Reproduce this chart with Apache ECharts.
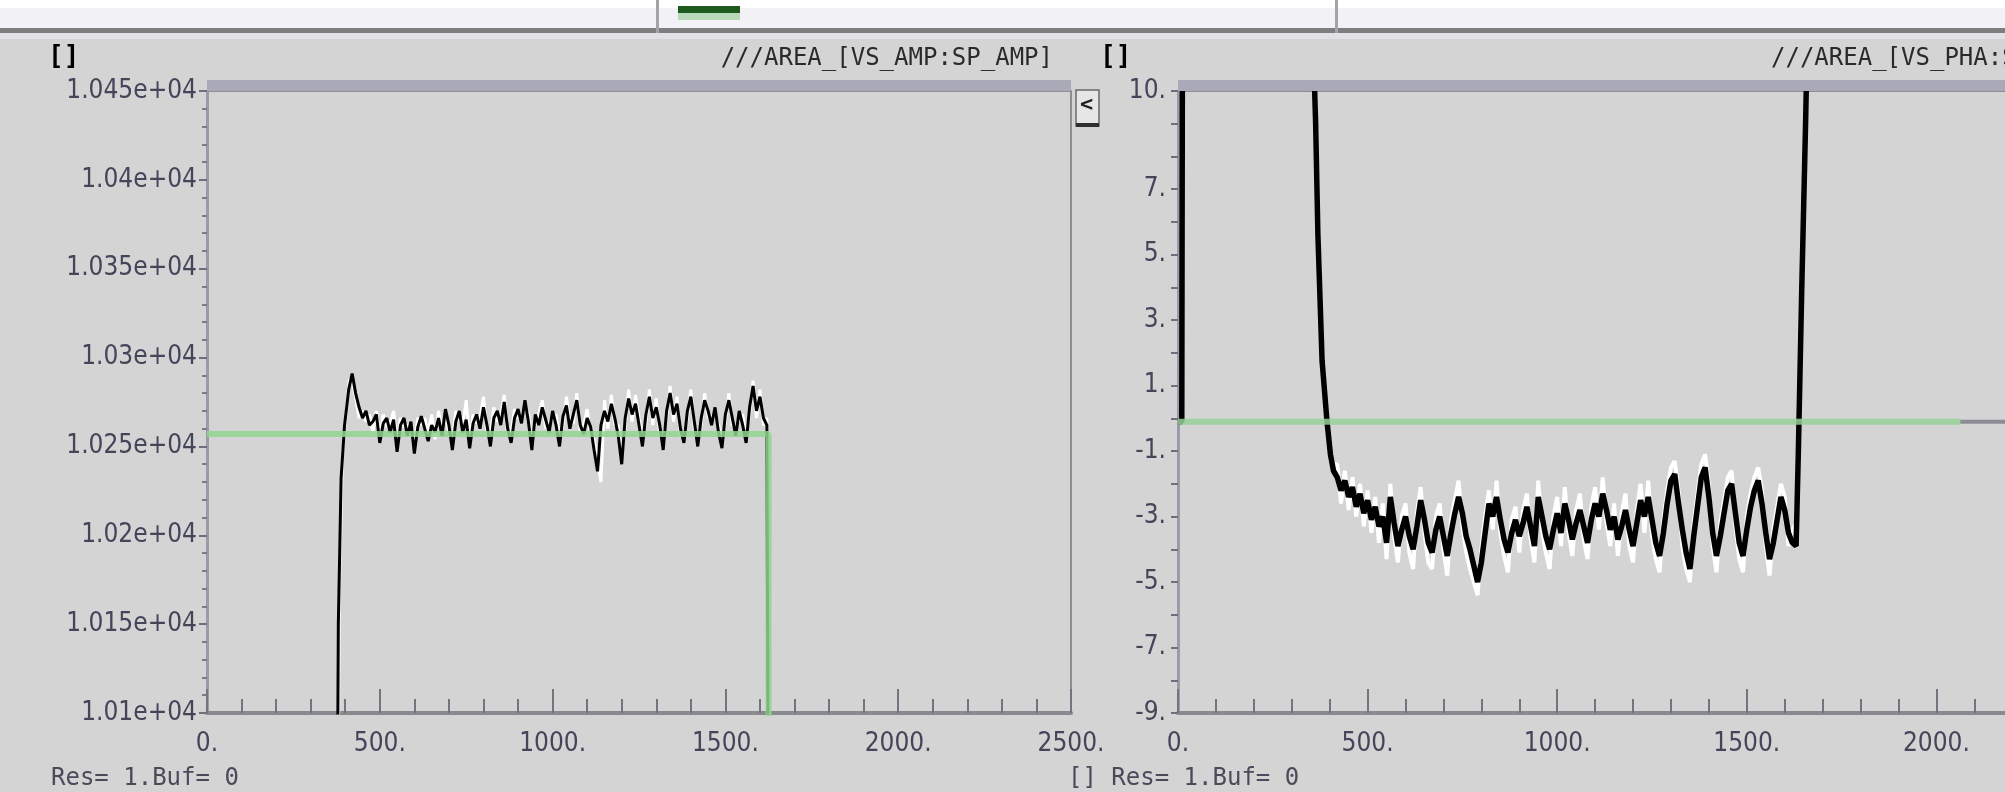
<!DOCTYPE html>
<html>
<head>
<meta charset="utf-8">
<script src="https://cdn.jsdelivr.net/npm/echarts@6/dist/echarts.min.js"></script>
<style>
html,body{margin:0;padding:0;background:#d4d4d4;}
#c{width:2005px;height:792px;}
</style>
</head>
<body>
<div id="c"></div>
<script>
// ---------------- data ----------------
const xTicksLabels = ['0.', '500.', '1000.', '1500.', '2000.', '2500.'];
const ampTickLabels = ['1.01e+04','1.015e+04','1.02e+04','1.025e+04','1.03e+04','1.035e+04','1.04e+04','1.045e+04'];
const phaTickValues = [-9, -7, -5, -3, -1, 1, 3, 5, 7, 10];

const noiseX = [420,430,440,450,460,470,480,490,500,510,
  520,530,540,550,560,570,580,590,600,610,
  620,630,640,650,660,670,680,690,700,710,
  720,730,740,750,760,770,780,790,800,810,
  820,830,840,850,860,870,880,890,900,910,
  920,930,940,950,960,970,980,990,1000,1010,
  1020,1030,1040,1050,1060,1070,1080,1090,1100,1110,
  1120,1130,1140,1150,1160,1170,1180,1190,1200,1210,
  1220,1230,1240,1250,1260,1270,1280,1290,1300,1310,
  1320,1330,1340,1350,1360,1370,1380,1390,1400,1410,
  1420,1430,1440,1450,1460,1470,1480,1490,1500,1510,
  1520,1530,1540,1550,1560,1570,1580,1590,1600,1610,
  1620];

// left panel: VS_AMP (measured, black) / reference (white) / SP_AMP setpoint (green)
const ampMeasHead = [[376,10000],[380,10150],[388,10232],[398,10262],[410,10282]];
const ampMeasY = [10291,10280,10272,10266,10270,10262,10264,10268,10252,10263,
  10266,10258,10265,10247,10262,10266,10256,10264,10246,10261,
  10267,10260,10253,10262,10258,10266,10256,10271,10262,10248,
  10264,10270,10258,10265,10249,10263,10268,10260,10272,10262,
  10250,10266,10270,10262,10275,10260,10252,10266,10271,10263,
  10276,10264,10248,10268,10262,10272,10265,10258,10270,10262,
  10250,10267,10273,10260,10268,10276,10262,10257,10266,10261,
  10248,10236,10262,10270,10264,10274,10266,10256,10240,10266,
  10277,10268,10274,10262,10250,10268,10278,10266,10272,10262,
  10248,10270,10280,10268,10274,10260,10252,10270,10278,10264,
  10250,10266,10276,10270,10262,10272,10258,10249,10268,10276,
  10266,10256,10270,10262,10252,10272,10284,10270,10278,10266,
  10262];
const ampMeasTail = [[1625,10000]];

const ampRefHead = [[378,10000],[383,10170],[392,10245],[402,10268],[412,10288]];
const ampRefY = [10286,10278,10266,10270,10264,10268,10258,10270,10256,10268,
  10261,10263,10270,10252,10266,10261,10262,10258,10252,10266,
  10262,10266,10257,10268,10254,10270,10260,10266,10258,10254,
  10270,10265,10262,10276,10254,10268,10263,10266,10278,10258,
  10256,10272,10264,10268,10279,10256,10258,10271,10266,10268,
  10271,10269,10254,10263,10268,10276,10260,10264,10265,10268,
  10256,10262,10278,10264,10263,10280,10258,10262,10271,10256,
  10254,10242,10230,10276,10260,10279,10262,10262,10246,10261,
  10282,10264,10279,10266,10256,10263,10282,10262,10277,10257,
  10254,10266,10284,10264,10278,10256,10257,10266,10282,10260,
  10255,10262,10280,10266,10267,10268,10262,10254,10264,10280,
  10262,10260,10266,10268,10256,10268,10287,10266,10282,10262,
  10266];
const ampRefTail = [[1627,10000]];

const ampSet = [[0,10257],[1625,10257],[1625,10000]];

// right panel: VS_PHA (measured, black) / reference (white) / SP_PHA setpoint (green)
const phaMeasHead = [[0,-0.1],[10,-0.1],[12,14],[350,14],[363,9],[369,5.6],[380,1.75],[393,-0.1],[402,-1.1],[410,-1.6]];
const phaMeasY = [-1.8,-2.2,-1.9,-2.4,-2.1,-2.7,-2.3,-2.9,-2.5,-3.1,
  -2.7,-3.3,-3.0,-3.8,-2.4,-3.2,-3.9,-3.4,-3.0,-3.6,
  -4.0,-3.3,-2.5,-3.1,-3.8,-4.1,-3.4,-3.0,-3.6,-4.2,
  -3.5,-2.9,-2.4,-2.9,-3.6,-4.0,-4.5,-5.0,-4.4,-3.5,
  -2.6,-3.0,-2.4,-3.1,-3.7,-4.1,-3.5,-3.1,-3.6,-3.2,
  -2.7,-3.3,-3.9,-2.4,-3.0,-3.6,-4.0,-3.4,-2.9,-3.5,
  -2.6,-3.1,-3.7,-3.2,-2.8,-3.3,-3.8,-3.1,-2.6,-3.0,
  -2.3,-2.8,-3.4,-3.0,-3.7,-3.3,-2.8,-3.4,-3.9,-3.2,
  -2.5,-3.0,-2.4,-3.1,-3.8,-4.2,-3.5,-2.6,-1.9,-1.7,
  -2.6,-3.4,-4.1,-4.6,-3.6,-2.7,-1.8,-1.5,-2.4,-3.5,
  -4.2,-3.6,-2.9,-2.2,-2.0,-2.9,-3.8,-4.2,-3.4,-2.7,
  -2.2,-1.9,-2.6,-3.5,-4.3,-3.8,-3.1,-2.4,-2.8,-3.5,
  -3.8];
const phaMeasTail = [[1630,-3.9],[1636,-1.0],[1645,4.0],[1655,9.0],[1662,13]];

const phaRefHead = [[0,-0.1],[10,-0.1],[13,14],[352,14],[364,9],[371,5.4],[382,1.5],[395,-0.4],[404,-1.3],[412,-1.4]];
const phaRefY = [-1.4,-2.6,-1.6,-2.8,-1.8,-3.0,-2.0,-3.3,-2.2,-3.5,
  -2.4,-3.8,-2.6,-4.3,-2.0,-3.6,-4.4,-3.0,-2.6,-4.1,
  -4.6,-2.9,-2.1,-3.5,-4.4,-4.6,-3.0,-2.6,-4.0,-4.8,
  -3.1,-2.5,-1.9,-3.3,-4.1,-4.6,-5.0,-5.4,-4.0,-3.0,
  -2.2,-3.4,-1.9,-3.5,-4.2,-4.7,-3.1,-2.7,-4.1,-2.8,
  -2.3,-3.7,-4.4,-1.9,-3.4,-4.1,-4.6,-3.0,-2.4,-3.9,
  -2.1,-3.5,-4.2,-2.8,-2.3,-3.7,-4.3,-2.7,-2.1,-3.4,
  -1.8,-3.2,-3.9,-2.6,-4.2,-2.9,-2.3,-3.9,-4.4,-2.8,
  -2.0,-3.5,-1.9,-3.6,-4.3,-4.7,-3.1,-2.2,-1.5,-1.3,
  -2.2,-3.9,-4.6,-5.0,-3.2,-2.3,-1.4,-1.1,-2.0,-3.9,
  -4.7,-3.2,-2.5,-1.8,-1.6,-3.3,-4.3,-4.7,-3.0,-2.3,
  -1.8,-1.5,-2.2,-3.9,-4.8,-3.4,-2.7,-2.0,-2.4,-3.9,
  -3.4];
const phaRefTail = [[1630,-3.2],[1637,-0.8],[1646,4.2],[1656,9.2],[1663,13]];

const phaSet = [[0,-0.1],[2063,-0.1]];
const phaSetRest = [[2063,-0.1],[2500,-0.1]];

// ---------------- fonts ----------------
function hasFont(name){
  const c = document.createElement('canvas').getContext('2d');
  const t = '1.045e+04 AREA_[VS]';
  for (const base of ['monospace','serif']) {
    c.font = '40px ' + base; const a = c.measureText(t).width;
    c.font = "40px '" + name + "', " + base; const b = c.measureText(t).width;
    if (a !== b) return true;
  }
  return false;
}
let AX_FAMILY = "'DejaVu Sans Mono', monospace", AX_SIZE = 24, AX_MARGIN = 20;
if (hasFont('Liberation Sans Narrow')) { AX_FAMILY = "'Liberation Sans Narrow', sans-serif"; AX_SIZE = 32; AX_MARGIN = 14; }
else if (hasFont('DejaVu Sans Condensed')) { AX_FAMILY = "'DejaVu Sans Condensed', sans-serif"; AX_SIZE = 26; AX_MARGIN = 18; }

// ---------------- build ----------------
function build(head, ys, tail){
  return head.concat(noiseX.map((x,i)=>[x, ys[i]]), tail);
}
const LBL = '#45455a';

const G = [
  {left:207, top:91, right:2005-1071, bottom:792-713},
  {left:1178, top:91, right:-121, bottom:792-713}
];

function xAxisFor(i){
  return {
    type:'value', gridIndex:i, min:0, max:2500, interval:500,
    axisLine:{show:true, onZero:false, lineStyle:{color:'#8a8a8e', width:4}},
    axisTick:{show:true, inside:true, length:24, lineStyle:{color:'#74747f', width:2}},
    minorTick:{show:true, splitNumber:5, length:14, lineStyle:{color:'#74747f', width:2}},
    splitLine:{show:false}, minorSplitLine:{show:false},
    axisLabel:{margin:AX_MARGIN, fontFamily:AX_FAMILY, fontSize:AX_SIZE, color:LBL, hideOverlap:false,
      formatter:(v)=>xTicksLabels[Math.round(v/500)] || ''}
  };
}

const option = {
  backgroundColor:'#d4d4d4',
  animation:false,
  grid: G.map(g=>Object.assign({show:true, backgroundColor:'#d4d4d4', borderColor:'#8e8e92', borderWidth:2, containLabel:false, outerBoundsMode:'none'}, g)),
  xAxis:[xAxisFor(0), xAxisFor(1)],
  yAxis:[
    {type:'value', gridIndex:0, min:10100, max:10450, interval:50,
     axisLine:{show:true, onZero:false, lineStyle:{color:'#9a9aaa', width:3}},
     axisTick:{show:true, inside:false, length:8, lineStyle:{color:'#6e6e7c', width:2}},
     minorTick:{show:true, splitNumber:5, length:5, lineStyle:{color:'#7a7a88', width:2}},
     splitLine:{show:false}, minorSplitLine:{show:false},
     axisLabel:{margin:10, fontFamily:AX_FAMILY, fontSize:AX_SIZE, color:LBL,
       formatter:(v)=>ampTickLabels[Math.round((v-10100)/50)] || ''}},
    {type:'value', gridIndex:1, min:-9, max:10, interval:1,
     axisLine:{show:true, onZero:false, lineStyle:{color:'#9a9aaa', width:3}},
     axisTick:{show:true, inside:false, length:7, lineStyle:{color:'#6e6e7c', width:2}},
     splitLine:{show:false},
     axisLabel:{margin:12, fontFamily:AX_FAMILY, fontSize:AX_SIZE, color:LBL,
       formatter:(v)=>phaTickValues.indexOf(Math.round(v))>=0 ? (Math.round(v)+'.') : ''}}
  ],
  series:[
    {type:'line', xAxisIndex:0, yAxisIndex:0, data:build(ampRefHead, ampRefY, ampRefTail),
     symbol:'none', lineStyle:{color:'#ffffff', width:3}, z:2},
    {type:'line', xAxisIndex:0, yAxisIndex:0, data:build(ampMeasHead, ampMeasY, ampMeasTail),
     symbol:'none', lineStyle:{color:'#000000', width:3}, z:3},
    {type:'line', xAxisIndex:0, yAxisIndex:0, data:ampSet,
     symbol:'none', lineStyle:{color:'#8fd68f', width:6, opacity:0.85}, z:4},
    {type:'line', xAxisIndex:1, yAxisIndex:1, data:build(phaRefHead, phaRefY, phaRefTail),
     symbol:'none', lineStyle:{color:'#ffffff', width:4}, z:2},
    {type:'line', xAxisIndex:1, yAxisIndex:1, data:build(phaMeasHead, phaMeasY, phaMeasTail),
     symbol:'none', lineStyle:{color:'#000000', width:5.5}, z:3},
    {type:'line', xAxisIndex:1, yAxisIndex:1, data:phaSet,
     symbol:'none', lineStyle:{color:'#98d098', width:6, opacity:0.85}, z:4},
    {type:'line', xAxisIndex:1, yAxisIndex:1, data:phaSetRest,
     symbol:'none', lineStyle:{color:'#8c8c96', width:4}, z:4}
  ],
  graphic:[
    // top window strip
    {type:'rect', shape:{x:0,y:0,width:2005,height:8}, style:{fill:'#ffffff'}, z:5},
    {type:'rect', shape:{x:0,y:8,width:2005,height:20}, style:{fill:'#f2f2f6'}, z:5},
    {type:'rect', shape:{x:0,y:28,width:2005,height:5}, style:{fill:'#7e7e7e'}, z:5},
    {type:'rect', shape:{x:0,y:33,width:2005,height:6}, style:{fill:'#e2e2e4'}, z:5},
    {type:'rect', shape:{x:656,y:0,width:3,height:33}, style:{fill:'#a4a4a4'}, z:6},
    {type:'rect', shape:{x:1335,y:0,width:3,height:33}, style:{fill:'#a4a4a4'}, z:6},
    {type:'rect', shape:{x:678,y:6,width:62,height:7}, style:{fill:'#1e5a1e'}, z:6},
    {type:'rect', shape:{x:678,y:13,width:62,height:7}, style:{fill:'#b8d8b8'}, z:6},
    // plot header bands
    {type:'rect', shape:{x:207,y:80,width:864,height:11}, style:{fill:'#a9a9b7'}, z:5},
    {type:'rect', shape:{x:1178,y:80,width:827,height:11}, style:{fill:'#a9a9b7'}, z:5},
    // titles
    {type:'text', left:48, top:44, style:{text:'[]', font:"bold 26px 'DejaVu Sans Mono', monospace", fill:'#000000'}, z:6},
    {type:'text', right:2005-1053, top:47, style:{text:'///AREA_[VS_AMP:SP_AMP]', font:"24px 'DejaVu Sans Mono', monospace", fill:'#2a2a2a'}, z:6},
    {type:'text', left:1100, top:44, style:{text:'[]', font:"bold 26px 'DejaVu Sans Mono', monospace", fill:'#000000'}, z:6},
    {type:'text', left:1771, top:47, style:{text:'///AREA_[VS_PHA:SP_PHA]', font:"24px 'DejaVu Sans Mono', monospace", fill:'#2a2a2a'}, z:6},
    // scroll button
    {type:'rect', shape:{x:1076,y:90,width:23,height:36}, style:{fill:'#e6e6e8', stroke:'#6a6a6a', lineWidth:1.5}, z:6},
    {type:'rect', shape:{x:1076,y:123,width:23,height:4}, style:{fill:'#303030'}, z:7},
    {type:'text', left:1080, top:94, style:{text:'<', font:"bold 22px 'DejaVu Sans Mono', monospace", fill:'#202020'}, z:7},
    // status lines
    {type:'text', left:51, top:767, style:{text:'Res= 1.Buf= 0', font:"24px 'DejaVu Sans Mono', monospace", fill:'#4a4a5a'}, z:6},
    {type:'text', left:1068, top:767, style:{text:'[] Res= 1.Buf= 0', font:"24px 'DejaVu Sans Mono', monospace", fill:'#4a4a5a'}, z:6}
  ]
};

const chart = echarts.init(document.getElementById('c'), null, {renderer:'canvas'});
chart.setOption(option);
</script>
</body>
</html>
